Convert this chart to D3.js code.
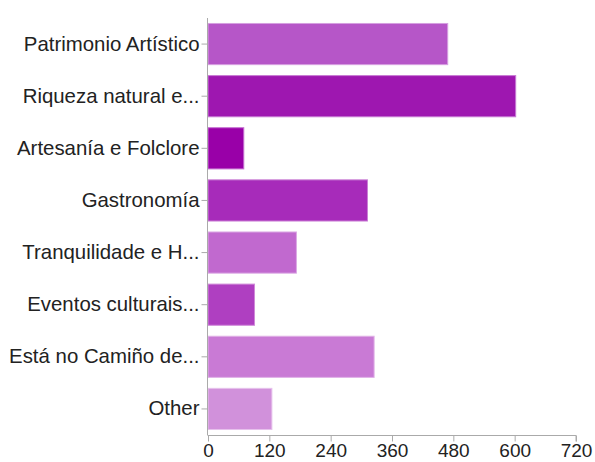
<!DOCTYPE html>
<html>
<head>
<meta charset="utf-8">
<script src="https://cdn.jsdelivr.net/npm/d3@7"></script>
<style>
  html, body { margin: 0; padding: 0; background: #fff; }
  svg text { font-family: "Liberation Sans", Arial, sans-serif; }
</style>
</head>
<body>
<svg id="chart" width="595" height="462"></svg>
<script>
const categories = [
  "Patrimonio Artístico",
  "Riqueza natural e...",
  "Artesanía e Folclore",
  "Gastronomía",
  "Tranquilidade e H...",
  "Eventos culturais...",
  "Está no Camiño de...",
  "Other"
];
const values = [469, 602, 70, 312, 173, 91, 325, 125];
const colors = ["#b656c8", "#9e17b0", "#9900a8", "#a72bba", "#c169cf", "#af3fc1", "#c97ad5", "#d191db"];
const strokes = ["#d69fe0", "#c77ad3", "#c56fd1", "#ca80d5", "#dcaae4", "#d08ad9", "#e0b2e7", "#e6c1ec"];
const tickValues = [0, 120, 240, 360, 480, 600, 720];

(function () {
const svg = d3.select("#chart");
const mLeft = 208, mRight = 576, mTop = 18, mBottom = 435;

const x = d3.scaleLinear().domain([0, 720]).range([mLeft, mRight]);
const y = d3.scaleBand().domain(categories).range([mTop, mBottom]).paddingInner(0.21).paddingOuter(0.105);

svg.append("g").selectAll("rect").data(categories).join("rect")
  .attr("x", x(0))
  .attr("y", d => y(d))
  .attr("width", (d, i) => x(values[i]) - x(0))
  .attr("height", y.bandwidth())
  .attr("fill", (d, i) => colors[i])
  .attr("stroke", (d, i) => strokes[i])
  .attr("stroke-width", 1);

const yAxis = svg.append("g")
  .attr("transform", `translate(${mLeft - 0.5},0)`)
  .call(d3.axisLeft(y).tickSize(6).tickPadding(2));
yAxis.select(".domain").attr("stroke", "#aaa").attr("d", `M0,${mTop}V${mBottom}`);
yAxis.selectAll(".tick line").attr("stroke", "#aaa");
yAxis.selectAll(".tick text").attr("fill", "#222").style("font-size", "20.4px")
  .style("font-family", '"Liberation Sans", Arial, sans-serif');

const xAxis = svg.append("g")
  .attr("transform", `translate(0,${mBottom + 0.5})`)
  .call(d3.axisBottom(x).tickValues(tickValues).tickSize(6).tickPadding(2));
xAxis.select(".domain").attr("stroke", "#aaa").attr("d", `M${mLeft - 0.5},0H${mRight}V6`);
xAxis.selectAll(".tick line").attr("stroke", "#aaa");
xAxis.selectAll(".tick text").attr("fill", "#222").style("font-size", "19px")
  .style("font-family", '"Liberation Sans", Arial, sans-serif');
})();
</script>
</body>
</html>
